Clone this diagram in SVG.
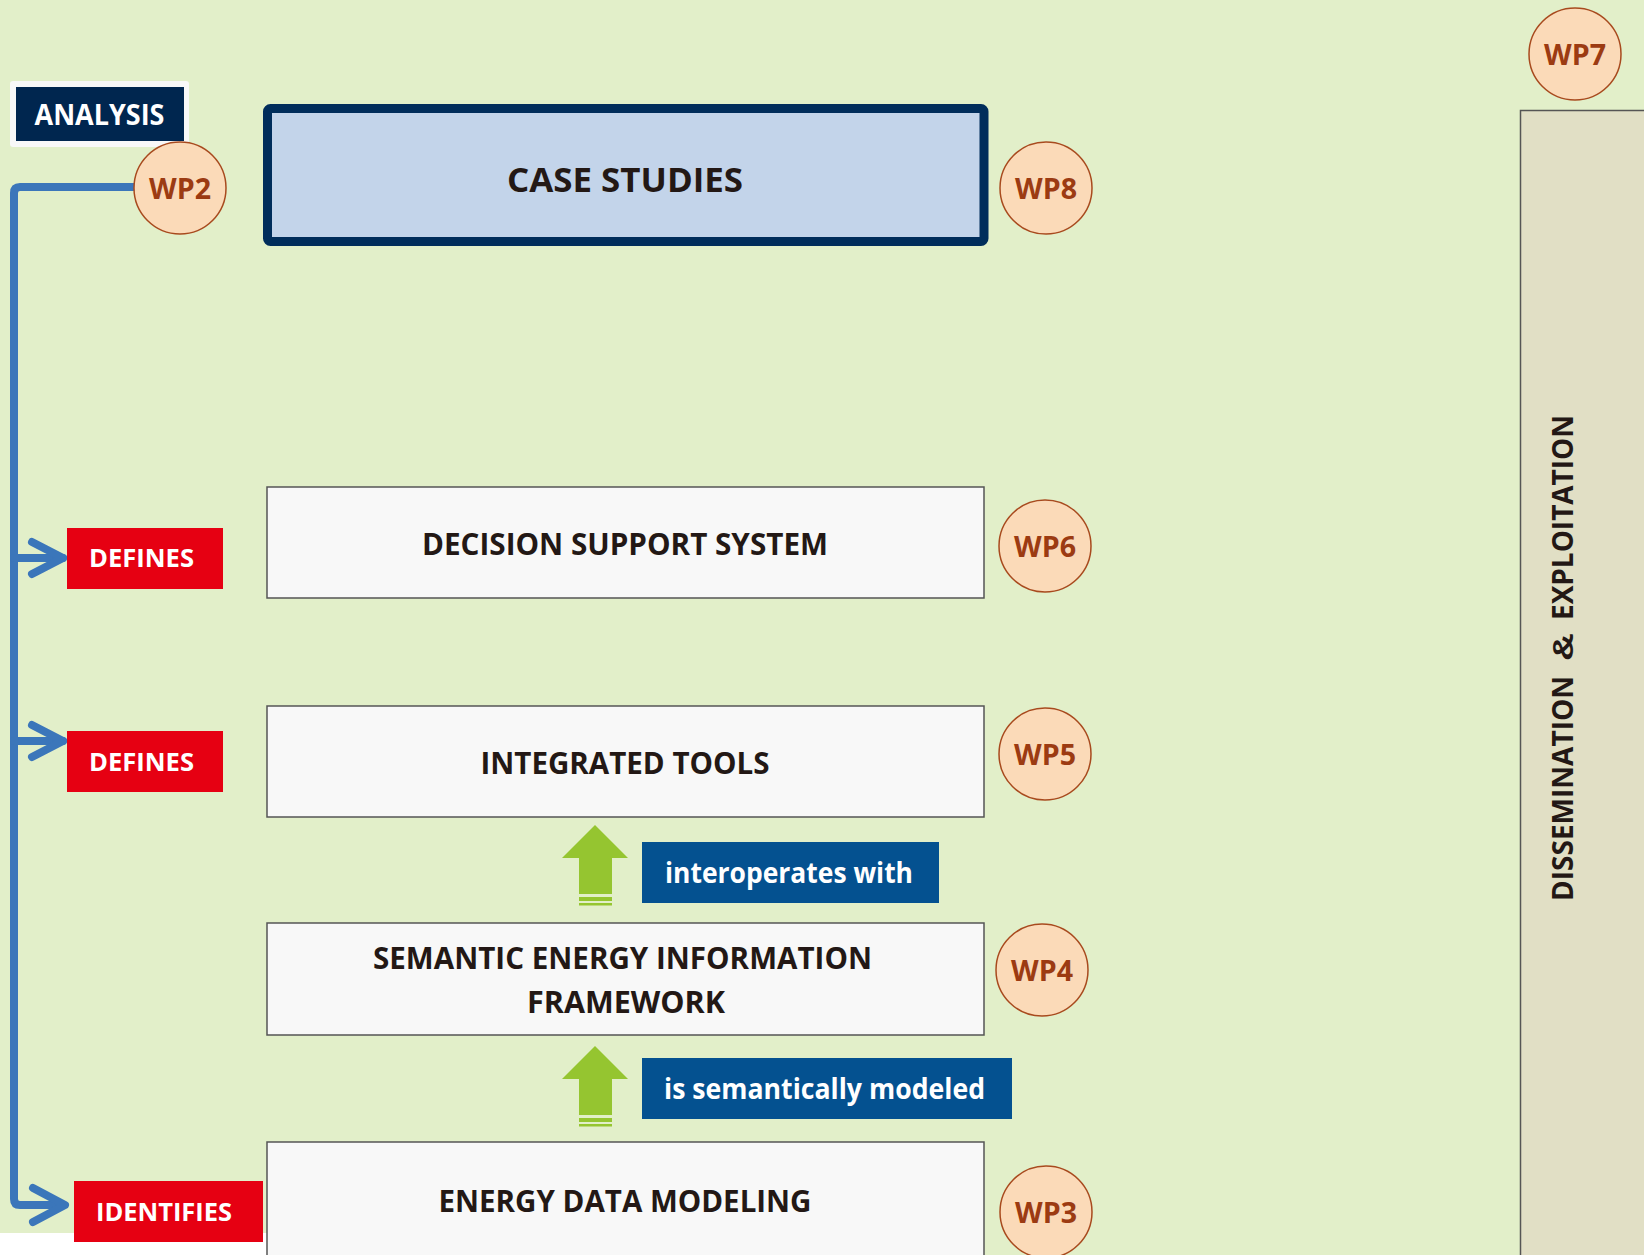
<svg xmlns="http://www.w3.org/2000/svg" width="1644" height="1255" viewBox="0 0 1644 1255">
<style>
.t{font-family:"Open Sans",Lato,"Liberation Sans",Arial,sans-serif;font-weight:bold;}
.amp{font-family:"Liberation Sans",Arial,sans-serif;font-weight:bold;}
.box{fill:#f8f8f8;stroke:#555;stroke-width:1.5;}
.bt{fill:#231815;font-size:31px;text-anchor:middle;}
.wp circle{fill:#fbdab8;stroke:#a84a1e;stroke-width:1.5;}
.wp text{fill:#9c3b12;font-size:29px;text-anchor:middle;}
.red{fill:#e60012;}
.rt{fill:#fff;font-size:25px;text-anchor:middle;}
.lbl{fill:#045190;}
.lt{fill:#fff;font-size:29px;}
.ga{fill:#95c530;}
.conn{fill:none;stroke:#3b76ba;stroke-width:8;stroke-linecap:round;stroke-linejoin:round;}
.vt{fill:#231815;font-size:29px;}
</style>
<rect x="0" y="0" width="1644" height="1255" fill="#e2efc9"/>
<rect x="0" y="1233" width="270" height="22" fill="#ffffff"/>

<g id="dissemination">
<rect x="1520.5" y="110.5" width="130" height="1150" fill="#e1dfc5" stroke="#555" stroke-width="1.5"/>
<g transform="translate(1573,0) rotate(-90)">
<text class="t vt" x="-901" y="0" textLength="225" lengthAdjust="spacingAndGlyphs">DISSEMINATION</text>
<text class="amp vt" x="-661" y="0" font-size="30" textLength="28" lengthAdjust="spacingAndGlyphs">&amp;</text>
<text class="t vt" x="-620" y="0" textLength="205" lengthAdjust="spacingAndGlyphs">EXPLOITATION</text>
</g>
</g>

<g id="analysis">
<rect x="10" y="81" width="179" height="66" rx="3" fill="#f8f8f8"/>
<rect x="16" y="87" width="168" height="54" fill="#00264f"/>
<text class="t" x="99.5" y="125" text-anchor="middle" font-size="28" fill="#fff" textLength="130" lengthAdjust="spacingAndGlyphs">ANALYSIS</text>
</g>

<g id="connectors">
<path class="conn" d="M134,187 H20 Q14,187 14,193 V1199 Q14,1205 20,1205 H63"/>
<path class="conn" d="M14,558 H63 M14,741 H63"/>
<path class="conn" d="M32,542 L63,558 L32,574"/>
<path class="conn" d="M32,725 L63,741 L32,757"/>
<path class="conn" d="M33,1188 L65,1205 L33,1222"/>
<g id="arrow-interoperates">
<polygon class="ga" points="562,858 595,825 628,858 612,858 612,894 579,894 579,858"/>
<rect class="ga" x="579" y="897" width="33" height="4"/>
<rect class="ga" x="579" y="903" width="33" height="2.5"/>
</g>
<g id="arrow-semantic">
<polygon class="ga" points="562,1079 595,1046 628,1079 612,1079 612,1115 579,1115 579,1079"/>
<rect class="ga" x="579" y="1118" width="33" height="4"/>
<rect class="ga" x="579" y="1124" width="33" height="2.5"/>
</g>
</g>

<g id="wp2" class="wp"><circle cx="180" cy="188" r="46"/><text class="t" x="180" y="199" textLength="62" lengthAdjust="spacingAndGlyphs">WP2</text></g>

<g id="case-studies">
<rect x="267.5" y="108.5" width="716.5" height="133" rx="3" fill="#c3d4ea" stroke="#002d5b" stroke-width="9"/>
<text class="t" x="625" y="192" text-anchor="middle" font-size="34" fill="#231815" textLength="236" lengthAdjust="spacingAndGlyphs">CASE STUDIES</text>
</g>
<g id="wp8" class="wp"><circle cx="1046" cy="188" r="46"/><text class="t" x="1046" y="199" textLength="62" lengthAdjust="spacingAndGlyphs">WP8</text></g>
<g id="wp7" class="wp"><circle cx="1575" cy="54" r="46"/><text class="t" x="1575" y="65" textLength="62" lengthAdjust="spacingAndGlyphs">WP7</text></g>

<g id="dss">
<rect class="box" x="267" y="487" width="717" height="111"/>
<text class="t bt" x="625" y="555" textLength="406" lengthAdjust="spacingAndGlyphs">DECISION SUPPORT SYSTEM</text>
</g>
<g id="wp6" class="wp"><circle cx="1045" cy="546" r="46"/><text class="t" x="1045" y="557" textLength="62" lengthAdjust="spacingAndGlyphs">WP6</text></g>
<g id="defines1">
<rect class="red" x="67" y="528" width="156" height="61"/>
<text class="t rt" x="141.5" y="567" textLength="105" lengthAdjust="spacingAndGlyphs">DEFINES</text>
</g>

<g id="integrated-tools">
<rect class="box" x="267" y="706" width="717" height="111"/>
<text class="t bt" x="625" y="774" textLength="289" lengthAdjust="spacingAndGlyphs">INTEGRATED TOOLS</text>
</g>
<g id="wp5" class="wp"><circle cx="1045" cy="754" r="46"/><text class="t" x="1045" y="765" textLength="62" lengthAdjust="spacingAndGlyphs">WP5</text></g>
<g id="defines2">
<rect class="red" x="67" y="731" width="156" height="61"/>
<text class="t rt" x="141.5" y="771" textLength="105" lengthAdjust="spacingAndGlyphs">DEFINES</text>
</g>

<g id="label-interoperates">
<rect class="lbl" x="642" y="842" width="297" height="61"/>
<text class="t lt" x="665" y="883" textLength="248" lengthAdjust="spacingAndGlyphs">interoperates with</text>
</g>

<g id="seif">
<rect class="box" x="267" y="923" width="717" height="112"/>
<text class="t bt" x="622.5" y="969" textLength="499" lengthAdjust="spacingAndGlyphs">SEMANTIC ENERGY INFORMATION</text>
<text class="t bt" x="626" y="1013" textLength="198" lengthAdjust="spacingAndGlyphs">FRAMEWORK</text>
</g>
<g id="wp4" class="wp"><circle cx="1042" cy="970" r="46"/><text class="t" x="1042" y="981" textLength="62" lengthAdjust="spacingAndGlyphs">WP4</text></g>

<g id="label-semantic">
<rect class="lbl" x="642" y="1058" width="370" height="61"/>
<text class="t lt" x="664" y="1099" textLength="321" lengthAdjust="spacingAndGlyphs">is semantically modeled</text>
</g>

<g id="energy-data-modeling">
<rect class="box" x="267" y="1142" width="717" height="130"/>
<text class="t bt" x="625" y="1212" textLength="373" lengthAdjust="spacingAndGlyphs">ENERGY DATA MODELING</text>
</g>
<g id="wp3" class="wp"><circle cx="1046" cy="1212" r="46"/><text class="t" x="1046" y="1223" textLength="62" lengthAdjust="spacingAndGlyphs">WP3</text></g>
<g id="identifies">
<rect class="red" x="74" y="1181" width="189" height="61"/>
<text class="t rt" x="164" y="1221" textLength="136" lengthAdjust="spacingAndGlyphs">IDENTIFIES</text>
</g>
</svg>
